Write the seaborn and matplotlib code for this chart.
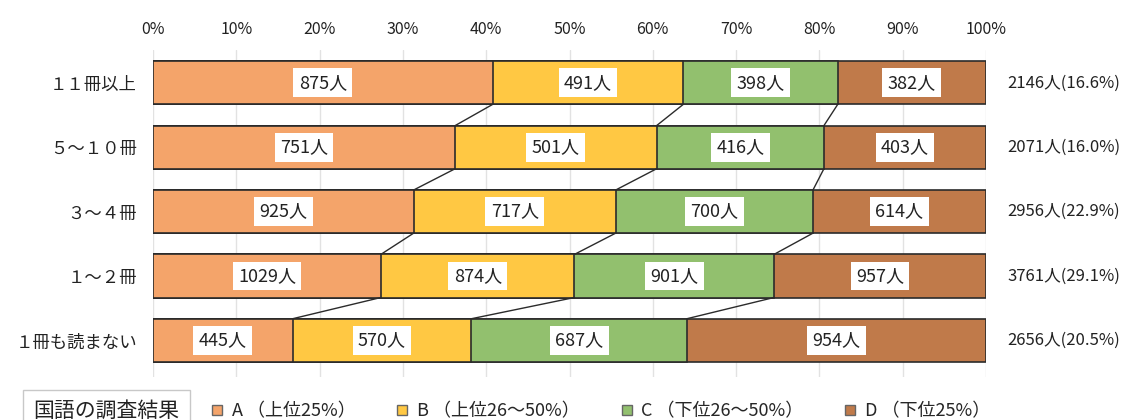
import pandas as pd
import seaborn as sns
import matplotlib.pyplot as plt
from matplotlib.lines import Line2D

# Data
groups = ["１１冊以上", "５～１０冊", "３～４冊", "１～２冊", "１冊も読まない"]
a_top25 = [875, 751, 925, 1029, 445]
b_top26_50 = [491, 501, 717, 874, 570]
c_low26_50 = [398, 416, 700, 901, 687]
d_low25 = [382, 403, 614, 957, 954]
share_pct = [16.6, 16.0, 22.9, 29.1, 20.5]
series_names = ["A （上位25%）", "B （上位26～50%）", "C （下位26～50%）", "D （下位25%）"]
tick_values = [0, 10, 20, 30, 40, 50, 60, 70, 80, 90, 100]

colors = ["#F4A46A", "#FFC843", "#92C06E", "#C07A4A"]
edge = "#2b2b2b"

counts = pd.DataFrame(
    {"A": a_top25, "B": b_top26_50, "C": c_low26_50, "D": d_low25}, index=groups
)
totals = counts.sum(axis=1)
pct = counts.div(totals, axis=0) * 100
cum = pct.cumsum(axis=1)
left = cum - pct

sns.set_style("white")
plt.rcParams["font.family"] = ["Noto Sans CJK JP", "DejaVu Sans"]

W, H = 1136, 420
fig = plt.figure(figsize=(W / 100, H / 100), dpi=100)
ax = fig.add_axes([153 / W, 1 - 377 / H, 833 / W, 327 / H])

bar_h = 0.67
plot_df = cum.reset_index().rename(columns={"index": "group"})
# stacked bars: draw cumulative widths from the longest to the shortest
for col, color in reversed(list(zip(cum.columns, colors))):
    sns.barplot(
        data=plot_df,
        x=col,
        y="group",
        order=groups,
        orient="y",
        color=color,
        saturation=1,
        width=bar_h,
        errorbar=None,
        edgecolor=edge,
        linewidth=1.2,
        ax=ax,
        zorder=2,
    )

# series lines between neighbouring bars
for i in range(len(groups) - 1):
    for col in ["A", "B", "C"]:
        ax.plot(
            [cum[col].iloc[i], cum[col].iloc[i + 1]],
            [i + bar_h / 2, i + 1 - bar_h / 2],
            color=edge,
            lw=1,
            zorder=3,
        )

# value labels
for i, g in enumerate(groups):
    for col in counts.columns:
        ax.text(
            left.loc[g, col] + pct.loc[g, col] / 2,
            i,
            f"{counts.loc[g, col]}人",
            ha="center",
            va="center",
            fontsize=13,
            color="#222222",
            bbox=dict(boxstyle="square,pad=0.3", fc="white", ec="none"),
            zorder=4,
        )
    ax.text(
        1.026,
        i,
        f"{totals[g]}人({share_pct[i]:.1f}%)",
        transform=ax.get_yaxis_transform(),
        ha="left",
        va="center",
        fontsize=12,
        color="#222222",
    )

ax.set_xlim(0, 100)
ax.set_ylim(4.57, -0.51)
ax.xaxis.tick_top()
ax.set_xticks(tick_values)
ax.set_xticklabels([f"{t}%" for t in tick_values], fontsize=11.5, color="#222222")
ax.tick_params(axis="x", length=0, pad=9)
ax.tick_params(axis="y", length=0, pad=11.5, labelsize=12.5, labelcolor="#222222")
ax.set_xlabel("")
ax.set_ylabel("")
ax.xaxis.grid(True, color="#e2e2e2", lw=1)
ax.set_axisbelow(True)
for s in ax.spines.values():
    s.set_visible(False)

# legend
fig.text(
    33 / W,
    1 - 411 / H,
    "国語の調査結果",
    ha="left",
    va="center",
    fontsize=15,
    color="#222222",
    bbox=dict(boxstyle="square,pad=0.5", fc="white", ec="#c8c8c8", lw=1),
)
handles = [
    Line2D([], [], marker="s", ls="", markersize=7, markerfacecolor=c,
           markeredgecolor="#666666", markeredgewidth=1)
    for c in colors
]
fig.legend(
    handles,
    series_names,
    loc="center left",
    bbox_to_anchor=(210 / W, 1 - 411 / H),
    ncol=4,
    frameon=False,
    fontsize=13,
    handlelength=0.8,
    handletextpad=0.4,
    columnspacing=2.2,
    borderaxespad=0,
    borderpad=0,
)

fig.savefig("out.png", dpi=100)
